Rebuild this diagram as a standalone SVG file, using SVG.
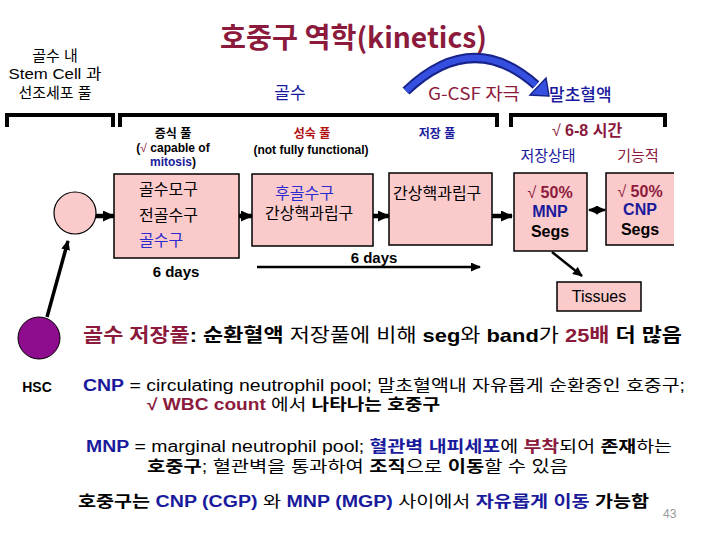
<svg xmlns="http://www.w3.org/2000/svg" width="720" height="540" viewBox="0 0 720 540">
<style>
.k{font-family:"Noto Sans CJK KR","Liberation Sans",sans-serif}
.a{font-family:"Liberation Sans","Noto Sans CJK KR",sans-serif}
.b{font-weight:bold}
.box{fill:#fbcaca;stroke:#000;stroke-width:1.5}
.br{fill:none;stroke:#000;stroke-width:4}
.ar{stroke:#000;stroke-width:4.5;fill:none}
.th{stroke:#000;stroke-width:2.5;fill:none}
.mar{fill:#8b1a3c}
.blu{fill:#1a1a9c}
.blb{fill:#2a2ad0}
.red{fill:#b01010}
</style>
<defs>
<marker id="ah" markerUnits="userSpaceOnUse" markerWidth="12" markerHeight="11" refX="11" refY="5.5" orient="auto"><path d="M0,0 L12,5.5 L0,11 z" fill="#000"/></marker>
<marker id="as" markerUnits="userSpaceOnUse" markerWidth="10" markerHeight="9" refX="9" refY="4.5" orient="auto-start-reverse"><path d="M0,0 L10,4.5 L0,9 z" fill="#000"/></marker>
</defs>
<rect width="720" height="540" fill="#fff"/>

<g id="title"><text class="k b mar" x="220" y="48" font-size="28" textLength="267" lengthAdjust="spacingAndGlyphs">호중구 역학(kinetics)</text></g>

<g id="stem-label" class="a" font-size="15" text-anchor="middle" fill="#000">
<text x="55" y="61">골수 내</text>
<text x="55" y="79" textLength="93" lengthAdjust="spacingAndGlyphs">Stem Cell 과</text>
<text x="55" y="98">선조세포 풀</text>
</g>

<g id="labels-top">
<text class="k blu" x="290" y="99" font-size="17" text-anchor="middle">골수</text>
<text class="k mar" x="428" y="100" font-size="17" textLength="92" lengthAdjust="spacingAndGlyphs">G-CSF 자극</text>
<text class="k blu" x="549" y="101" font-size="17" font-weight="500">말초혈액</text>
</g>

<g id="brackets">
<path class="br" d="M7 127 V115 H113 V127"/>
<path class="br" d="M120 127 V115 H497 V127"/>
<path class="br" d="M511 127 V115 H665 V127"/>
</g>

<g id="pool-labels" class="a" text-anchor="middle">
<text class="b" x="173" y="138" font-size="12">증식 풀</text>
<text class="b" x="173" y="152" font-size="12">(<tspan font-weight="normal" class="mar">√</tspan> capable of</text>
<text class="b" x="173" y="166" font-size="12"><tspan class="blu">mitosis</tspan>)</text>
<text class="b red" x="312" y="138" font-size="12">성숙 풀</text>
<text class="b" x="311" y="154" font-size="12" textLength="115">(not fully functional)</text>
<text class="b blu" x="437" y="138" font-size="12">저장 풀</text>
<text class="b mar" x="587" y="136" font-size="16"><tspan font-weight="normal">√</tspan> 6-8 시간</text>
<text class="blu" x="548" y="161" font-size="15">저장상태</text>
<text class="mar" x="638" y="161" font-size="15">기능적</text>
</g>

<g id="progenitor"><circle cx="75" cy="213" r="21" fill="#fbcaca" stroke="#000" stroke-width="1.2"/></g>

<g id="hsc">
<circle cx="39" cy="338" r="21" fill="#8e0c8e" stroke="#000" stroke-width="1"/>
<text class="a b" x="37" y="392" font-size="14" text-anchor="middle">HSC</text>
</g>

<g id="mitotic-pool" class="a">
<rect class="box" x="114" y="174" width="125" height="84"/>
<text x="139" y="195" font-size="16">골수모구</text>
<text x="139" y="221" font-size="16">전골수구</text>
<text class="blb" x="139" y="246" font-size="16">골수구</text>
<text class="b" x="176" y="277" font-size="15" text-anchor="middle">6 days</text>
</g>

<g id="maturation-pool" class="a">
<rect class="box" x="252" y="174" width="121" height="72"/>
<text class="blb" x="275" y="199" font-size="16">후골수구</text>
<text x="265" y="219" font-size="16">간상핵과립구</text>
</g>

<g id="storage-pool" class="a">
<rect class="box" x="389" y="173" width="103" height="72"/>
<text x="393" y="199" font-size="16">간상핵과립구</text>
</g>

<g id="mnp" class="a" text-anchor="middle">
<rect class="box" x="514" y="173" width="73" height="78"/>
<text class="b mar" x="550" y="198" font-size="16"><tspan font-weight="normal">√</tspan> 50%</text>
<text class="b blu" x="550" y="217" font-size="16">MNP</text>
<text class="b" x="550" y="237" font-size="16">Segs</text>
</g>

<g id="cnp" class="a" text-anchor="middle">
<rect x="606" y="173" width="68" height="72" fill="#fbcaca"/>
<path d="M674 173 H606 V245 H674" fill="none" stroke="#000" stroke-width="1.5"/>
<text class="b mar" x="640" y="197" font-size="16"><tspan font-weight="normal">√</tspan> 50%</text>
<text class="b blu" x="640" y="215" font-size="16">CNP</text>
<text class="b" x="640" y="235" font-size="16">Segs</text>
</g>

<g id="tissues">
<rect class="box" x="557" y="282" width="84" height="29"/>
<text class="a" x="599" y="302" font-size="16" text-anchor="middle">Tissues</text>
</g>

<g id="connectors">
<line class="ar" x1="96" y1="216" x2="114" y2="216" marker-end="url(#ah)"/>
<line class="ar" x1="239" y1="216" x2="252" y2="216" marker-end="url(#ah)"/>
<line class="ar" x1="373" y1="216" x2="389" y2="216" marker-end="url(#ah)"/>
<line class="ar" x1="492" y1="216" x2="512" y2="216" marker-end="url(#ah)"/>
<line class="th" x1="589" y1="210" x2="605" y2="210" marker-start="url(#as)" marker-end="url(#as)"/>
<line class="th" x1="552" y1="252" x2="582" y2="276" marker-end="url(#as)"/>
<line class="th" x1="257" y1="267" x2="480" y2="267" marker-end="url(#as)"/>
<line x1="47" y1="317" x2="68" y2="241" stroke="#000" stroke-width="3.5" marker-end="url(#as)"/>
<path d="M406 91 Q472 28 536 85" fill="none" stroke="#17238a" stroke-width="10"/>
<path d="M406 91 Q472 28 536 85" fill="none" stroke="#3550e0" stroke-width="6"/>
<polygon points="549,96 530,95 546,78" fill="#3550e0" stroke="#17238a" stroke-width="1.5"/>
<text class="a b" x="374" y="263" font-size="15" text-anchor="middle">6 days</text>
</g>

<g id="notes" class="a">
<text x="83" y="342" font-size="19" textLength="599" lengthAdjust="spacingAndGlyphs"><tspan class="b mar">골수 저장풀</tspan><tspan class="b">: 순환혈액</tspan> 저장풀에 비해 <tspan class="b">seg</tspan>와  <tspan class="b">band</tspan>가 <tspan class="b mar">25배</tspan><tspan class="b"> 더 많음</tspan></text>
<text x="83" y="391" font-size="16" textLength="602" lengthAdjust="spacingAndGlyphs"><tspan class="b blu">CNP</tspan> = circulating neutrophil pool; 말초혈액내 자유롭게 순환중인 호중구;</text>
<text x="147" y="410" font-size="16" textLength="293" lengthAdjust="spacingAndGlyphs"><tspan class="b mar">√ WBC count</tspan> 에서 <tspan class="b">나타나는 호중구</tspan></text>
<text x="86" y="452" font-size="16" textLength="586" lengthAdjust="spacingAndGlyphs"><tspan class="b blu">MNP</tspan> = marginal neutrophil pool; <tspan class="b blu">혈관벽 내피세포</tspan>에 <tspan class="b mar">부착</tspan>되어 <tspan class="b">존재</tspan>하는</text>
<text x="147" y="472" font-size="16" textLength="421" lengthAdjust="spacingAndGlyphs"><tspan class="b">호중구</tspan>; 혈관벽을 통과하여 <tspan class="b">조직</tspan>으로 <tspan class="b">이동</tspan>할 수 있음</text>
<text x="78" y="507" font-size="16" textLength="571" lengthAdjust="spacingAndGlyphs"><tspan class="b">호중구는</tspan>  <tspan class="b blu">CNP (CGP)</tspan> 와 <tspan class="b blu">MNP (MGP)</tspan> 사이에서 <tspan class="b blu">자유롭게  이동</tspan><tspan class="b"> 가능함</tspan></text>
<text x="663" y="518" font-size="12" fill="#999">43</text>
</g>
</svg>
